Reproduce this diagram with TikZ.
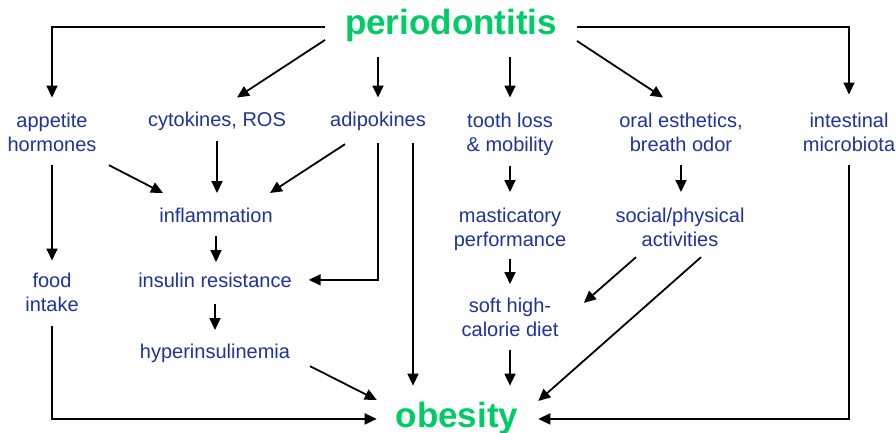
\documentclass[tikz,border=0pt]{standalone}
\usepackage{fontspec}
\setmainfont{Liberation Sans}
\usetikzlibrary{arrows.meta,calc}
\definecolor{txtblue}{RGB}{30,52,150}
\definecolor{txtgreen}{RGB}{0,204,102}
\tikzset{
  lbl/.style={font=\fontsize{20}{24}\selectfont, text=txtblue, align=center, inner sep=0pt, outer sep=0pt, anchor=base},
  big/.style={font=\fontsize{35}{40}\selectfont\bfseries, text=txtgreen, inner sep=0pt, outer sep=0pt, anchor=base},
  arr/.style={line width=1.8pt, -{Triangle[length=12pt,width=11pt]}}
}
\begin{document}
\begin{tikzpicture}[x=1pt,y=-1pt]
\useasboundingbox[fill=white] (0,0) rectangle (896,433);
\node[big] (per) at (451,35) {periodontitis};
\node[big] (obe) at (457,427) {obesity};
\node[lbl] (app) at (52,151) {appetite\\hormones};
\node[lbl] (cyt) at (217,127) {cytokines, ROS};
\node[lbl] (adi) at (378,127) {adipokines};
\node[lbl] (tooth) at (510,151) {tooth loss\\\& mobility};
\node[lbl] (oral) at (681,151) {oral esthetics,\\breath odor};
\node[lbl] (intest) at (849,151) {intestinal\\microbiota};
\node[lbl] (infl) at (216,222) {inflammation};
\node[lbl] (ins) at (215,287) {insulin resistance};
\node[lbl] (hyp) at (215,358) {hyperinsulinemia};
\node[lbl] (food) at (52,311) {food\\intake};
\node[lbl] (mast) at (510,246) {masticatory\\performance};
\node[lbl] (soc) at (680,246) {social/physical\\activities};
\node[lbl] (soft) at (510,336) {soft high-\\calorie diet};

\draw[arr] ($(per.west)+(-20,1)$) -| ($(app.north)+(0,-15)$);
\draw[arr] ($(per.west)+(-20,14)$) -- ($(cyt.north)+(20,-15)$);
\draw[arr] ($(per.south -| adi.north)+(0,15)$) -- ($(adi.north)+(0,-15)$);
\draw[arr] ($(per.south -| tooth.north)+(0,15)$) -- ($(tooth.north)+(0,-15)$);
\draw[arr] ($(per.east)+(20,15)$) -- ($(oral.north)+(-18,-15)$);
\draw[arr] ($(per.east)+(20,1)$) -| ($(intest.north)+(0,-18)$);

\draw[arr] ($(app.south)+(0,14)$) -- ($(food.north)+(0,-12)$);
\draw[arr] ($(app.south)+(57,14)$) -- ($(infl.north)+(-53,-14.5)$);
\draw[arr] ($(cyt.south)+(0,10)$) -- ($(cyt.south |- infl.north)+(0,-14.5)$);
\draw[arr] ($(adi.south)+(-33,13)$) -- ($(infl.north)+(54,-14.5)$);
\draw[arr] ($(adi.south)+(0,12)$) |- ($(ins.east)+(17,0)$);
\draw[arr] ($(adi.south)+(35,12)$) -- ($(obe.north)+(-44,-16)$);

\draw[arr] ($(infl.south)+(0,14)$) -- ($(infl.south |- ins.north)+(0,-10.5)$);
\draw[arr] ($(ins.south)+(0,17)$) -- ($(hyp.north)+(0,-13.5)$);
\draw[arr] ($(hyp.south east)+(20,4)$) -- ($(obe.west)+(-19,-18)$);
\draw[arr] ($(food.south)+(0,15)$) |- ($(obe.west)+(-19,1)$);

\draw[arr] ($(tooth.south)+(0,11)$) -- ($(mast.north)+(0,-15.5)$);
\draw[arr] ($(oral.south)+(0,14)$) -- ($(oral.south |- soc.north)+(0,-15.5)$);
\draw[arr] ($(mast.south)+(0,9)$) -- ($(soft.north)+(0,-13.5)$);
\draw[arr] ($(soft.south)+(0,14)$) -- ($(soft.south |- obe.north)+(0,-16)$);
\draw[arr] ($(soc.south)+(-44,11)$) -- ($(soft.east)+(25.5,-14)$);
\draw[arr] ($(soc.south)+(21,11)$) -- ($(obe.east)+(20,-17)$);
\draw[arr] ($(intest.south)+(0,14)$) |- ($(obe.east)+(20,1)$);
\end{tikzpicture}
\end{document}
